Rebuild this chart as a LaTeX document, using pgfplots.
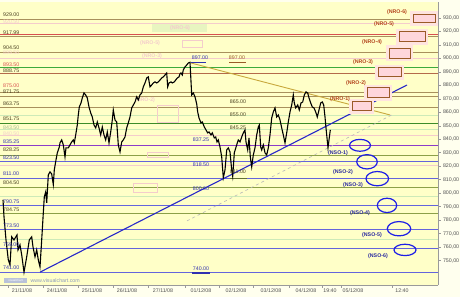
\documentclass[border=0pt]{standalone}
\usepackage{pgfplots}
\pgfplotsset{compat=1.18}
\usepackage{fontspec}
\setmainfont{Liberation Sans}
\definecolor{outerbg}{HTML}{FFFFEE}
\definecolor{plotbg}{HTML}{FFFFC8}
\definecolor{axisgray}{HTML}{9A9A9A}
\definecolor{tickgray}{HTML}{505050}
\definecolor{brownl}{HTML}{A8905C}
\definecolor{redl}{HTML}{D85050}
\definecolor{redbrown}{HTML}{B46A4A}
\definecolor{greenl}{HTML}{3C8C28}
\definecolor{brightgreen}{HTML}{3CAA3C}
\definecolor{oliveg}{HTML}{8CA048}
\definecolor{bluel}{HTML}{6464DC}
\definecolor{violetl}{HTML}{8C3CC8}
\definecolor{trendblue}{HTML}{2828C8}
\definecolor{goldl}{HTML}{C8A83C}
\definecolor{ellblue}{HTML}{1E1EE6}
\definecolor{nroborder}{HTML}{9A5A28}
\definecolor{nrofill}{HTML}{FFD6DC}
\definecolor{nrohalo}{HTML}{FFE4E0}
\definecolor{nrotext}{HTML}{B4461E}
\definecolor{nsotext}{HTML}{2828A0}
\definecolor{labdark}{HTML}{4A4020}
\definecolor{labblue}{HTML}{3030B0}
\definecolor{palepink}{HTML}{F4CCCC}
\definecolor{palegreen}{HTML}{CDEAB8}
\definecolor{wmark}{HTML}{8A9AC0}
\newcommand{\hl}[3][0.9bp]{\addplot[#2, line width=#1, forget plot] coordinates {(0,#3) (438,#3)};}
\newcommand{\fs}{\fontsize{5.3}{6}\selectfont}
\newcommand{\nro}[4]{%
  \fill[nrohalo] (axis cs:#1-3,#3+2.5) rectangle (axis cs:#2+3,#4-2.5);
  \draw[nroborder, fill=nrofill, line width=1bp] (axis cs:#1,#3) rectangle (axis cs:#2,#4);}
\newcommand{\nso}[4]{\draw[ellblue, line width=1.2bp] (axis cs:#1,#2) ellipse [x radius=#3, y radius=#4];}
\newcommand{\lab}[3]{\node[anchor=west, inner sep=0pt, text=#3, font=\fs] at (axis cs:3,#1) {#2};}
\begin{document}
\begin{tikzpicture}
\fill[outerbg] (0,0) rectangle (460bp,297bp);
\useasboundingbox (0,0) rectangle (460bp,297bp);
\begin{axis}[
  at={(0bp,12bp)}, anchor=south west,
  scale only axis, width=438bp, height=283bp,
  xmin=0, xmax=438, ymin=732.0, ymax=941.7,
  axis x line*=bottom, axis y line*=right,
  axis line style={draw=axisgray, line width=0.6bp},
  axis background/.style={fill=plotbg},
  tick align=outside,
  tick style={axisgray, line width=0.5bp},
  major tick length=2.5bp,
  /pgf/number format/assume math mode=true,
  ytick={750,760,...,930},
  yticklabel style={font=\fs, text=tickgray, xshift=-1bp, /pgf/number format/.cd, fixed, fixed zerofill, precision=2, use comma, 1000 sep={}},
  xtick={8,43,78,113,148,185,219,253,289,322,341,392},
  xticklabels={},
  extra x ticks={22,57,92,127,163,201,236,271,306,330,353,402},
  extra x tick labels={21/11/08,24/11/08,25/11/08,26/11/08,27/11/08,01/12/08,02/12/08,03/12/08,04/12/08,19:40,05/12/08,12:40},
  extra x tick style={major tick length=0pt, xticklabel style={font=\fs, text=tickgray, yshift=-0.5bp}},
]
% faint background levels
\hl[0.7bp]{palepink}{926.0}
\hl[0.7bp]{palepink}{900.0}
\hl[0.7bp]{palegreen}{857.5}
\hl[0.7bp]{palegreen}{847.5}
\hl[0.7bp]{palepink}{843.0}
\hl[0.7bp]{palepink}{820.5}
\hl[0.7bp]{palegreen}{797.5}
\hl[0.7bp]{palegreen}{766.0}
% main levels
\hl{brownl}{929.0}
\hl{redl}{917.99}
\hl{brownl}{916.0}
\hl{brownl}{904.5}
\hl{brightgreen}{893.5}
\hl{redbrown}{889.0}
\hl{brownl}{875.0}
\hl{brownl}{871.75}
\hl{brownl}{863.75}
\hl[1.1bp]{greenl}{851.75}
\hl[1.1bp]{violetl}{835.25}
\hl{oliveg}{828.25}
\hl{bluel}{823.5}
\hl{bluel}{811.0}
\hl{oliveg}{804.5}
\hl{bluel}{790.75}
\hl{oliveg}{784.75}
\hl{bluel}{773.5}
\hl{bluel}{759.0}
\hl[1.1bp]{bluel}{741.0}
% ghost boxes
\fill[palegreen, opacity=0.45] (axis cs:152,925.4) rectangle (axis cs:207,919.5);
\draw[palepink, line width=0.7bp] (axis cs:182,913.6) rectangle (axis cs:202,908.4);
\draw[palepink, line width=0.7bp] (axis cs:157,865.4) rectangle (axis cs:178,852.8);
\draw[palepink, line width=0.7bp] (axis cs:147,830.6) rectangle (axis cs:168,826.9);
\draw[palepink, line width=0.7bp] (axis cs:133,807.6) rectangle (axis cs:157,801.0);
\node[text=palepink, font=\fs\bfseries] at (axis cs:180,922.5) {(NRO-6)};
\node[text=palepink, font=\fs\bfseries] at (axis cs:150,911) {(NRO-5)};
\node[text=palepink, font=\fs\bfseries] at (axis cs:152,901.5) {(NRO-3)};
\node[text=palepink, font=\fs\bfseries] at (axis cs:145,869) {(NRO-2)};
% trend lines
\addplot[goldl, line width=0.9bp, forget plot] coordinates {(191,896.5) (390,858.0)};
\addplot[trendblue, line width=1.1bp, forget plot] coordinates {(40,741.5) (407,880.2)};
\addplot[axisgray!70, dashed, line width=0.6bp, forget plot] coordinates {(187,779.5) (393,858.5)};
% short level markers
\addplot[labblue, line width=1.2bp, forget plot] coordinates {(191,897.0) (206,897.0)};
\addplot[nroborder, line width=1.0bp, forget plot] coordinates {(229,897.0) (246,897.0)};
\addplot[oliveg!70!black, line width=1.0bp, forget plot] coordinates {(230,811.0) (247,811.0)};
\addplot[labblue, line width=1.4bp, forget plot] coordinates {(192,741.0) (210,741.0)};
% price
\addplot[black, line width=1.1bp, forget plot] coordinates {
(3,795.1) (4,782.5) (6,765.4) (8.3,750.6) (10,746.9) (11.7,767.7) (14,765.4) (17,769.1) (18,758.0) (20,761.7) (21.7,754.3) (24,741.5) (26.7,752.8) (29.3,765.4) (31.7,767.7) (33,760.2) (35,752.8) (36.7,758.0) (38.3,750.6) (40,745.4) (41.7,765.4) (43.3,785.4) (44.3,797.3) (45.7,801.0) (46.7,792.8)
(48.3,813.6) (50,815.8) (51.7,814.3) (53.3,806.4) (54.3,817.3) (56,824.7) (57.3,829.9) (59.3,834.3) (60,837.3) (61.7,839.5) (63.3,835.8) (65,826.9) (66,833.6) (68.3,833.6) (70,835.8) (71.7,838.0) (73.3,839.5) (74.3,837.3) (75.7,843.2) (77.3,850.6) (78.3,858.0) (79.3,863.9) (81,866.9) (82.3,870.6) (84,874.3) (85.7,872.8) (87.3,870.6) (89,863.9) (90.7,859.5) (92.3,856.5) (94,850.6) (95.7,848.4) (97.3,852.8) (99,848.4) (100.7,843.2) (102.3,849.1) (104,843.2) (105.7,839.5) (107.3,845.4) (109,837.3) (110.7,845.4) (112.3,854.3) (113.3,861.7) (115,854.3) (116.7,852.8)
(118.3,835.8) (120,830.6) (121.7,838.0) (123.3,839.5) (125,841.7) (126.7,848.4) (128.3,852.1) (130,856.5) (131.7,863.2) (135,867.6) (136.7,871.4) (138.3,869.1) (140,872.8) (141.7,874.3) (143.3,878.8) (145,881.7) (146.7,885.4) (148.3,886.2) (150,878.8) (151.7,880.2) (153.3,881.7) (155,882.5) (156.7,881.7) (158.3,882.5) (160,883.9) (161.7,885.4) (163.3,886.2) (165,887.6) (166.7,889.1)
(167.7,878.8) (169,881.7) (171,882.5) (172.3,881.7) (174.3,882.5) (175.7,883.9) (177.3,885.4) (179,886.2) (180,888.4) (181,889.1) (182.3,887.6) (183.3,891.4) (185,893.6) (186.7,895.0) (188.3,896.5) (190,897.0)
(191.7,872.8) (193.3,874.3) (195,871.4) (196.7,866.2) (197.7,860.2) (199,855.8) (201,852.1) (202.3,852.8) (204.3,849.1) (206,846.9) (207.7,844.7) (209,845.4) (211,843.2) (212.3,844.7) (214.3,841.0) (215.7,841.7) (217,838.0) (218.3,839.5) (220,834.3) (221.7,826.9) (223.3,811.5) (225,817.3) (226.7,832.1) (228.3,833.6) (230,830.6) (231.7,817.3) (232.7,812.5) (234.3,829.9) (236.7,835.8) (238.3,839.5) (240,838.0) (241.7,841.7) (243.3,844.7) (245,846.9) (246,838.0) (247.7,832.1) (249,841.0) (250.3,826.9) (251.7,819.5) (253.3,828.4) (255,833.6) (256.7,843.2) (258.3,849.1) (259.3,850.6) (260.7,834.3) (261.7,832.1) (263.3,835.8) (265,829.9) (266.7,828.4) (268.3,833.6) (270,843.2) (271.7,855.8) (273.3,860.2) (275,863.2) (276.7,856.5) (278.3,858.0) (280,854.3) (281.7,848.4) (283.3,843.2) (285,837.3) (286.7,844.7) (288.3,852.8) (290,860.2) (291.7,865.4) (293.3,872.8) (294.3,866.9) (295.7,863.2) (297.7,865.4) (299.3,861.7) (301,866.9) (302.7,867.6) (304.3,872.8) (306,875.1) (307.7,874.3) (309,870.6) (310.7,866.9) (312.3,863.9) (314,863.2) (315.7,860.2) (317.3,856.5) (319,861.7) (320.7,866.9) (322.3,867.6) (323.7,865.4) (325,856.5) (326,848.4) (327,841.0) (328,833.6) (329,839.5) (330.3,846.9)
};
% NRO boxes
\nro{352}{371}{867.6}{861.0}
\nro{367}{389}{878.0}{870.6}
\nro{378}{401}{892.8}{886.2}
\nro{389}{410}{907.6}{900.2}
\nro{399}{425}{919.5}{912.1}
\nro{413}{435}{932.8}{926.2}
\node[text=nrotext, font=\fs\bfseries] at (axis cs:340,869.9) {(NRO-1)};
\node[text=nrotext, font=\fs\bfseries] at (axis cs:356,881.7) {(NRO-2)};
\node[text=nrotext, font=\fs\bfseries] at (axis cs:363,897.3) {(NRO-3)};
\node[text=nrotext, font=\fs\bfseries] at (axis cs:372,912.1) {(NRO-4)};
\node[text=nrotext, font=\fs\bfseries] at (axis cs:384,925.4) {(NRO-5)};
\node[text=nrotext, font=\fs\bfseries] at (axis cs:397,934.3) {(NRO-6)};
% NSO ellipses
\nso{360}{835.5}{10.5}{4.4}
\nso{367}{823.3}{10.3}{5.3}
\nso{377.3}{810.8}{11.3}{5.3}
\nso{387}{791.0}{9.7}{5.3}
\nso{399}{773.7}{11.7}{5.3}
\nso{405}{758.0}{11}{4.2}
\node[text=nsotext, font=\fs\bfseries] at (axis cs:338,829.9) {(NSO-1)};
\node[text=nsotext, font=\fs\bfseries] at (axis cs:343,815.8) {(NSO-2)};
\node[text=nsotext, font=\fs\bfseries] at (axis cs:353,806.2) {(NSO-3)};
\node[text=nsotext, font=\fs\bfseries] at (axis cs:360,785.4) {(NSO-4)};
\node[text=nsotext, font=\fs\bfseries] at (axis cs:372,769.1) {(NSO-5)};
\node[text=nsotext, font=\fs\bfseries] at (axis cs:378,753.6) {(NSO-6)};
% left level labels
\lab{932.3}{929.00}{labdark}
\lab{919.3}{917.99}{labdark}
\lab{907.9}{904.50}{labdark}
\lab{895.6}{893.50}{redl}
\lab{891.0}{888.75}{labdark}
\lab{880.0}{875.00}{redl}
\lab{875.6}{871.75}{labdark}
\lab{866.7}{863.75}{labdark}
\lab{855.1}{851.75}{labdark}
\lab{838.0}{835.25}{labblue}
\lab{832.1}{828.25}{labdark}
\lab{826.7}{823.50}{labblue}
\lab{814.3}{811.00}{labblue}
\lab{807.6}{804.50}{labdark}
\lab{793.8}{790.75}{labblue}
\lab{787.7}{784.75}{labdark}
\lab{776.3}{773.50}{labblue}
\lab{762.2}{759.00}{labblue}
\lab{744.7}{741.00}{labblue}
% faint labels
\lab{926.9}{920.50}{palepink}
\lab{903.9}{899.50}{palepink}
\lab{848.4}{843.50}{palegreen!80!black}
\lab{844.4}{840.50}{palepink}
% center labels
\node[text=labblue, font=\fs] at (axis cs:200,900.3) {897.00};
\node[text=nroborder, font=\fs] at (axis cs:237,900.3) {897.00};
\node[text=labdark, font=\fs] at (axis cs:238,867.6) {865.00};
\node[text=labdark, font=\fs] at (axis cs:238,858.0) {855.00};
\node[text=labdark, font=\fs] at (axis cs:238,848.4) {845.25};
\node[text=labblue, font=\fs] at (axis cs:201,839.5) {837.25};
\node[text=labblue, font=\fs] at (axis cs:201,821.2) {818.50};
\node[text=labdark, font=\fs] at (axis cs:238,815.8) {811.00};
\node[text=labblue, font=\fs] at (axis cs:201,803.2) {800.00};
\node[text=labblue, font=\fs] at (axis cs:201,743.8) {740.00};
% watermark
\fill[wmark!60] (axis cs:4,737.2) rectangle (axis cs:27,733.6);
\node[text=white, font=\fontsize{3}{3}\selectfont] at (axis cs:15.5,735.4) {visualchart};
\node[anchor=west, text=wmark, font=\fs] at (axis cs:27,735.4) {www.visualchart.com};
\end{axis}
\end{tikzpicture}
\end{document}
